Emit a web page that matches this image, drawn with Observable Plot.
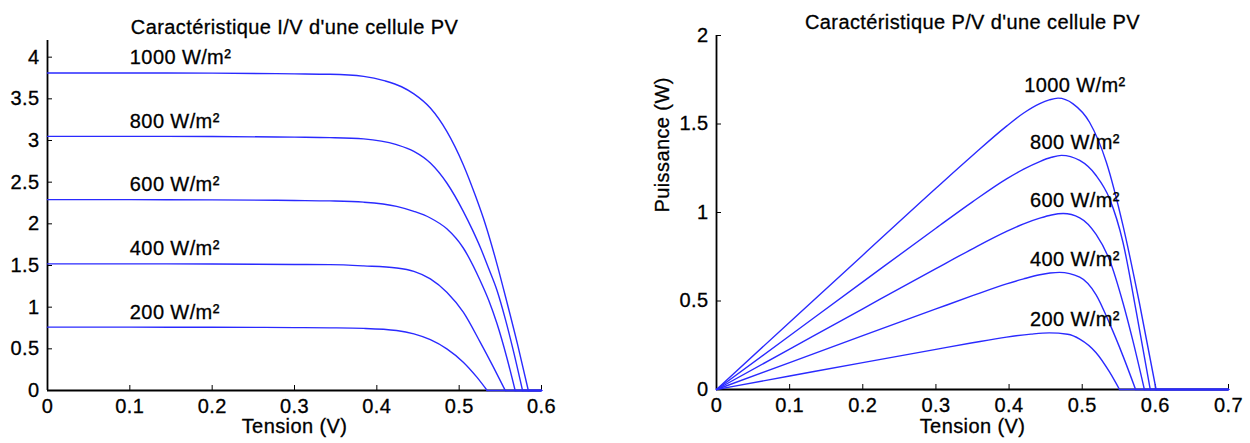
<!DOCTYPE html>
<html>
<head>
<meta charset="utf-8">
<script src="https://cdn.jsdelivr.net/npm/d3@7"></script>
<script src="https://cdn.jsdelivr.net/npm/@observablehq/plot@0.6"></script>
<style>
  html, body { margin: 0; padding: 0; background: #fff; }
  #wrap { position: relative; width: 1250px; height: 443px; overflow: hidden; }
  #left { position: absolute; left: 0; top: 0; }
  #right { position: absolute; left: 620px; top: 0; }
  #wrap svg text { stroke: #000; stroke-width: 0.3px; }
</style>
</head>
<body>
<div id="wrap"><div id="left"></div><div id="right"></div></div>
<script>
// ---------- data ----------
const irradiance = [1000, 800, 600, 400, 200];

// I/V characteristic: [tension (V), courant (A)]
const iv1000 = [[0,3.81],[0.1,3.81],[0.2,3.808],[0.3,3.80],[0.343,3.795],[0.384,3.77],[0.41,3.715],[0.43,3.645],[0.445,3.56],[0.465,3.39],[0.485,3.11],[0.505,2.71],[0.52,2.33],[0.532,1.99],[0.545,1.55],[0.558,1.06],[0.571,0.55],[0.584,0]];
const iv800  = [[0,3.05],[0.1,3.05],[0.2,3.048],[0.3,3.04],[0.343,3.035],[0.384,3.02],[0.424,2.95],[0.445,2.87],[0.465,2.73],[0.485,2.49],[0.505,2.15],[0.516,1.93],[0.526,1.71],[0.536,1.46],[0.546,1.20],[0.556,0.86],[0.566,0.47],[0.577,0]];
const iv600  = [[0,2.29],[0.1,2.29],[0.2,2.288],[0.3,2.28],[0.343,2.275],[0.384,2.26],[0.424,2.21],[0.445,2.15],[0.465,2.07],[0.485,1.94],[0.505,1.71],[0.5255,1.32],[0.536,1.08],[0.546,0.80],[0.558,0.39],[0.568,0]];
const iv400  = [[0,1.52],[0.1,1.52],[0.2,1.518],[0.3,1.512],[0.343,1.51],[0.384,1.495],[0.424,1.47],[0.445,1.43],[0.465,1.34],[0.485,1.18],[0.505,0.94],[0.5255,0.58],[0.5416,0.28],[0.556,0]];
const iv200  = [[0,0.76],[0.1,0.76],[0.2,0.759],[0.3,0.755],[0.343,0.752],[0.384,0.745],[0.424,0.72],[0.445,0.68],[0.465,0.61],[0.485,0.50],[0.505,0.34],[0.5215,0.16],[0.534,0]];

// P/V characteristic: [tension (V), puissance (W)]
const pv1000 = [[0,0],[0.1,0.38],[0.2,0.759],[0.3,1.137],[0.35,1.322],[0.3966,1.488],[0.42,1.562],[0.442,1.615],[0.455,1.636],[0.467,1.646],[0.4875,1.614],[0.51,1.51],[0.533,1.284],[0.5557,0.927],[0.578,0.493],[0.601,0]];
const pv800  = [[0,0],[0.1,0.304],[0.2,0.608],[0.3,0.911],[0.35,1.060],[0.3966,1.190],[0.42,1.245],[0.442,1.288],[0.458,1.312],[0.4716,1.323],[0.4966,1.294],[0.519,1.209],[0.5375,1.077],[0.5557,0.832],[0.574,0.437],[0.593,0]];
const pv600  = [[0,0],[0.1,0.228],[0.2,0.456],[0.3,0.683],[0.35,0.795],[0.3966,0.893],[0.42,0.936],[0.442,0.968],[0.458,0.986],[0.474,0.994],[0.4966,0.970],[0.519,0.876],[0.5375,0.73],[0.5557,0.49],[0.569,0.28],[0.585,0]];
const pv400  = [[0,0],[0.1,0.152],[0.2,0.304],[0.3,0.455],[0.35,0.530],[0.3966,0.597],[0.42,0.625],[0.442,0.648],[0.456,0.658],[0.469,0.662],[0.4966,0.635],[0.519,0.535],[0.5375,0.372],[0.5557,0.19],[0.573,0]];
const pv200  = [[0,0],[0.1,0.076],[0.2,0.152],[0.3,0.227],[0.35,0.264],[0.3966,0.296],[0.43,0.313],[0.455,0.320],[0.48,0.312],[0.4966,0.285],[0.519,0.208],[0.5375,0.098],[0.551,0]];

const ivTicksX = [0, 0.1, 0.2, 0.3, 0.4, 0.5, 0.6];
const ivTicksY = [0, 0.5, 1, 1.5, 2, 2.5, 3, 3.5, 4];
const pvTicksX = [0, 0.1, 0.2, 0.3, 0.4, 0.5, 0.6, 0.7];
const pvTicksY = [0, 0.5, 1, 1.5, 2];

const titleIV = "Caractéristique I/V d'une cellule PV";
const titlePV = "Caractéristique P/V d'une cellule PV";
const xLabel = "Tension (V)";
const yLabelPV = "Puissance (W)";

// ---------- build tables ----------
const ivSeries = [iv1000, iv800, iv600, iv400, iv200];
const pvSeries = [pv1000, pv800, pv600, pv400, pv200];
const toRows = (series, key) => series.flatMap((pts, k) => pts.map(([v, y]) => ({g: irradiance[k], v, [key]: y})));
const ivRows = toRows(ivSeries, "i");
const pvRows = toRows(pvSeries, "p");
const tails = (series, xmax, key) => series.flatMap((pts, k) => {
  const voc = pts[pts.length - 1][0];
  return [{g: irradiance[k], v: voc, [key]: 0}, {g: irradiance[k], v: xmax, [key]: 0}];
});
const ivTail = tails(ivSeries, 0.6, "i");
const pvTail = tails(pvSeries, 0.7, "p");
const ivLabels = irradiance.map((g, k) => ({g, i: ivSeries[k][0][1], text: `${g} W/m²`}));
const pvLabels = irradiance.map((g, k) => ({g, p: d3.max(pvSeries[k], d => d[1]), text: `${g} W/m²`}));

const fmt = d => String(d);
const FONT = "'Liberation Sans', Arial, Helvetica, sans-serif";
const BLUE = "#2a2aff";
const style = {fontFamily: FONT, fontSize: "20px", letterSpacing: "0.4px", color: "#000", background: "transparent", overflow: "visible"};

// ---------- left chart ----------
const left = Plot.plot({
  width: 560, height: 443,
  marginLeft: 47, marginRight: 19, marginTop: 40, marginBottom: 53,
  x: {domain: [0, 0.6]},
  y: {domain: [0, 4.2]},
  style,
  marks: [
    Plot.axisX({ticks: ivTicksX, tickSize: -5, tickPadding: 13, tickFormat: fmt, label: null, fontSize: 20}),
    Plot.axisY({ticks: ivTicksY, tickSize: -5, tickPadding: 13, tickFormat: fmt, label: null, fontSize: 20}),
    Plot.ruleX([0], {stroke: "#000", strokeWidth: 1.8}),
    Plot.ruleY([0], {stroke: "#000", strokeWidth: 1.8}),
    Plot.line(ivTail, {x: "v", y: "i", z: "g", stroke: BLUE, strokeWidth: 1.6}),
    Plot.line(ivRows, {x: "v", y: "i", z: "g", stroke: BLUE, strokeWidth: 1.4, curve: "monotone-x"}),
    Plot.text(ivLabels, {x: 0.1, y: "i", text: "text", textAnchor: "start", dy: -15, fontSize: 20, fill: "#000"}),
    Plot.text([titleIV], {frameAnchor: "top", dy: -21, text: d => d, fontSize: 20, fill: "#000"}),
    Plot.text([xLabel], {frameAnchor: "bottom", dy: 42, text: d => d, fontSize: 20, fill: "#000"})
  ]
});
document.getElementById("left").appendChild(left);

// ---------- right chart ----------
const right = Plot.plot({
  width: 630, height: 443,
  marginLeft: 96, marginRight: 22, marginTop: 35, marginBottom: 54,
  x: {domain: [0, 0.7]},
  y: {domain: [0, 2]},
  style,
  marks: [
    Plot.axisX({ticks: pvTicksX, tickSize: -5, tickPadding: 13, tickFormat: fmt, label: null, fontSize: 20}),
    Plot.axisY({ticks: pvTicksY, tickSize: -5, tickPadding: 13, tickFormat: fmt, label: null, fontSize: 20}),
    Plot.ruleX([0], {stroke: "#000", strokeWidth: 1.8}),
    Plot.ruleY([0], {stroke: "#000", strokeWidth: 1.8}),
    Plot.line(pvTail, {x: "v", y: "p", z: "g", stroke: BLUE, strokeWidth: 1.6}),
    Plot.line(pvRows, {x: "v", y: "p", z: "g", stroke: BLUE, strokeWidth: 1.4, curve: "monotone-x"}),
    Plot.text(pvLabels, {x: 0.49, y: "p", text: "text", textAnchor: "middle", dy: -13, fontSize: 20, fill: "#000"}),
    Plot.text([titlePV], {frameAnchor: "top", dy: -21, text: d => d, fontSize: 20, fill: "#000"}),
    Plot.text([xLabel], {frameAnchor: "bottom", dy: 43, text: d => d, fontSize: 20, fill: "#000"}),
    Plot.text([yLabelPV], {frameAnchor: "left", dx: -54, rotate: -90, text: d => d, fontSize: 20, fill: "#000"})
  ]
});
document.getElementById("right").appendChild(right);
</script>
</body>
</html>
